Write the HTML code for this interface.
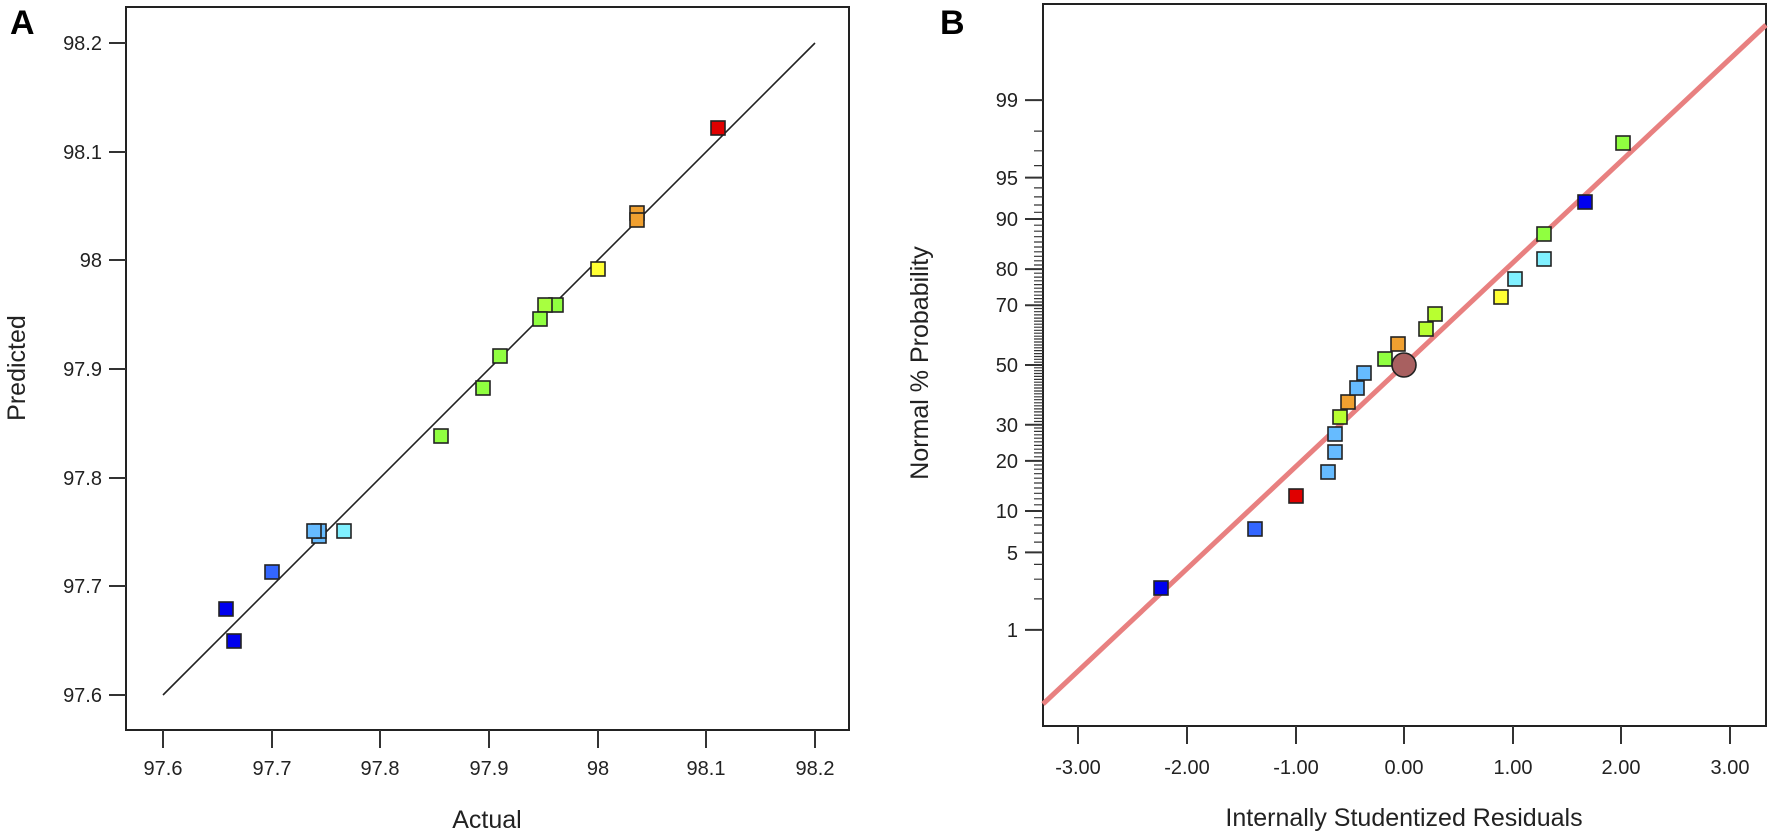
<!DOCTYPE html>
<html><head><meta charset="utf-8"><style>
html,body{margin:0;padding:0;background:#fff}
svg{display:block}
text{font-family:"Liberation Sans",sans-serif;fill:#222}
</style></head><body>
<svg width="1772" height="838" viewBox="0 0 1772 838" xmlns="http://www.w3.org/2000/svg">
<!-- Panel A -->
<text x="10" y="34" font-size="34" font-weight="bold" style="fill:#000">A</text>
<rect x="126" y="7" width="723" height="723" fill="none" stroke="#222" stroke-width="2"/>
<g stroke="#333" stroke-width="2">
<line x1="163" y1="730" x2="163" y2="748"/><line x1="272" y1="730" x2="272" y2="748"/>
<line x1="380" y1="730" x2="380" y2="748"/><line x1="489" y1="730" x2="489" y2="748"/>
<line x1="598" y1="730" x2="598" y2="748"/><line x1="706" y1="730" x2="706" y2="748"/>
<line x1="815" y1="730" x2="815" y2="748"/>
<line x1="109" y1="695" x2="126" y2="695"/><line x1="109" y1="586" x2="126" y2="586"/>
<line x1="109" y1="478" x2="126" y2="478"/><line x1="109" y1="369" x2="126" y2="369"/>
<line x1="109" y1="260" x2="126" y2="260"/><line x1="109" y1="152" x2="126" y2="152"/>
<line x1="109" y1="43" x2="126" y2="43"/>
</g>
<g font-size="20" text-anchor="middle">
<text x="163" y="775">97.6</text><text x="272" y="775">97.7</text><text x="380" y="775">97.8</text>
<text x="489" y="775">97.9</text><text x="598" y="775">98</text><text x="706" y="775">98.1</text><text x="815" y="775">98.2</text>
</g>
<g font-size="20" text-anchor="end">
<text x="102" y="702">97.6</text><text x="102" y="593">97.7</text><text x="102" y="485">97.8</text>
<text x="102" y="376">97.9</text><text x="102" y="267">98</text><text x="102" y="159">98.1</text><text x="102" y="50">98.2</text>
</g>
<text x="487" y="828" font-size="25" text-anchor="middle">Actual</text>
<text transform="translate(25,368) rotate(-90)" font-size="25" text-anchor="middle">Predicted</text>
<line x1="163" y1="695" x2="815" y2="43" stroke="#222" stroke-width="1.6"/>
<g stroke="#222" stroke-width="1.6">
<rect x="711" y="121" width="14" height="14" fill="#e00000"/>
<rect x="630" y="206" width="14" height="14" fill="#f0a030"/>
<rect x="630" y="213" width="14" height="14" fill="#f0a030"/>
<rect x="591" y="262" width="14" height="14" fill="#ffff33"/>
<rect x="549" y="298" width="14" height="14" fill="#90ff40"/>
<rect x="538" y="298" width="14" height="14" fill="#a8ff40"/>
<rect x="533" y="312" width="14" height="14" fill="#90ff40"/>
<rect x="493" y="349" width="14" height="14" fill="#90ff40"/>
<rect x="476" y="381" width="14" height="14" fill="#90ff40"/>
<rect x="434" y="429" width="14" height="14" fill="#90ff40"/>
<rect x="337" y="524" width="14" height="14" fill="#80f0ff"/>
<rect x="312" y="529" width="14" height="14" fill="#66bbff"/>
<rect x="312" y="524" width="14" height="14" fill="#66bbff"/>
<rect x="307" y="524" width="14" height="14" fill="#66bbff"/>
<rect x="265" y="565" width="14" height="14" fill="#3366ff"/>
<rect x="219" y="602" width="14" height="14" fill="#0000ee"/>
<rect x="227" y="634" width="14" height="14" fill="#0000ee"/>
</g>

<!-- Panel B -->
<text x="940" y="34" font-size="34" font-weight="bold" style="fill:#000">B</text>
<rect x="1043" y="4" width="723" height="722" fill="none" stroke="#222" stroke-width="2"/>
<g stroke="#333" stroke-width="2">
<line x1="1078" y1="726" x2="1078" y2="744"/><line x1="1187" y1="726" x2="1187" y2="744"/>
<line x1="1296" y1="726" x2="1296" y2="744"/><line x1="1404" y1="726" x2="1404" y2="744"/>
<line x1="1513" y1="726" x2="1513" y2="744"/><line x1="1621" y1="726" x2="1621" y2="744"/>
<line x1="1730" y1="726" x2="1730" y2="744"/>
</g>
<g font-size="20" text-anchor="middle">
<text x="1078" y="774">-3.00</text><text x="1187" y="774">-2.00</text><text x="1296" y="774">-1.00</text>
<text x="1404" y="774">0.00</text><text x="1513" y="774">1.00</text><text x="1621" y="774">2.00</text><text x="1730" y="774">3.00</text>
</g>
<!-- minor ticks -->
<path stroke="#333" stroke-width="1.2" fill="none" d="
M1034 629.9H1043M1034 598.9H1043M1034 579.2H1043M1034 564.4H1043M1034 552.4H1043M1034 542.1H1043M1034 533.1H1043M1034 525H1043M1034 517.7H1043M1034 511H1043
M1034 504.8H1043M1034 498.8H1043M1034 493.3H1043M1034 488H1043M1034 483H1043M1034 478.2H1043M1034 473.7H1043M1034 469.2H1043M1034 465H1043M1034 460.9H1043
M1034 456.8H1043M1034 452.9H1043M1034 449.2H1043M1034 445.4H1043M1034 441.8H1043M1034 438.2H1043M1034 434.8H1043M1034 431.4H1043M1034 428H1043M1034 424.7H1043
M1034 421.5H1043M1034 418.3H1043M1034 415.1H1043M1034 411.9H1043M1034 408.9H1043M1034 405.8H1043M1034 402.8H1043M1034 399.7H1043M1034 396.8H1043M1034 393.8H1043
M1034 391H1043M1034 388H1043M1034 385H1043M1034 382.2H1043M1034 379.4H1043M1034 376.4H1043M1034 373.5H1043M1034 370.7H1043M1034 367.8H1043M1034 365H1043
M1034 100.1H1043M1034 131.1H1043M1034 150.8H1043M1034 165.6H1043M1034 177.6H1043M1034 187.9H1043M1034 196.9H1043M1034 205H1043M1034 212.3H1043M1034 219H1043
M1034 225.2H1043M1034 231.2H1043M1034 236.7H1043M1034 242H1043M1034 247H1043M1034 251.8H1043M1034 256.3H1043M1034 260.8H1043M1034 265H1043M1034 269.1H1043
M1034 273.2H1043M1034 277.1H1043M1034 280.8H1043M1034 284.6H1043M1034 288.2H1043M1034 291.8H1043M1034 295.2H1043M1034 298.6H1043M1034 302H1043M1034 305.3H1043
M1034 308.5H1043M1034 311.7H1043M1034 314.9H1043M1034 318.1H1043M1034 321.1H1043M1034 324.2H1043M1034 327.2H1043M1034 330.3H1043M1034 333.2H1043M1034 336.2H1043
M1034 339H1043M1034 342H1043M1034 345H1043M1034 347.8H1043M1034 350.6H1043M1034 353.6H1043M1034 356.5H1043M1034 359.3H1043M1034 362.2H1043"/>
<!-- major ticks -->
<path stroke="#333" stroke-width="2" fill="none" d="
M1025 629.9H1043M1025 552.4H1043M1025 511H1043M1025 460.9H1043M1025 424.7H1043M1025 365H1043
M1025 305.3H1043M1025 269.1H1043M1025 219H1043M1025 177.6H1043M1025 100.1H1043"/>
<g font-size="20" text-anchor="end">
<text x="1018" y="637">1</text><text x="1018" y="560">5</text><text x="1018" y="518">10</text>
<text x="1018" y="468">20</text><text x="1018" y="432">30</text><text x="1018" y="372">50</text>
<text x="1018" y="312">70</text><text x="1018" y="276">80</text><text x="1018" y="226">90</text>
<text x="1018" y="185">95</text><text x="1018" y="107">99</text>
</g>
<text x="1404" y="826" font-size="25" text-anchor="middle">Internally Studentized Residuals</text>
<text transform="translate(928,363) rotate(-90)" font-size="25" text-anchor="middle">Normal % Probability</text>
<line x1="1043" y1="704" x2="1766" y2="25" stroke="#e88080" stroke-width="5"/>
<g stroke="#222" stroke-width="1.6">
<rect x="1154" y="581" width="14" height="14" fill="#0000ee"/>
<rect x="1248" y="522" width="14" height="14" fill="#3366ff"/>
<rect x="1289" y="489" width="14" height="14" fill="#e00000"/>
<rect x="1321" y="465" width="14" height="14" fill="#66bbff"/>
<rect x="1328" y="445" width="14" height="14" fill="#66bbff"/>
<rect x="1328" y="427" width="14" height="14" fill="#66bbff"/>
<rect x="1333" y="410" width="14" height="14" fill="#b8ff30"/>
<rect x="1341" y="395" width="14" height="14" fill="#f0a030"/>
<rect x="1350" y="381" width="14" height="14" fill="#66bbff"/>
<rect x="1357" y="366" width="14" height="14" fill="#66bbff"/>
<rect x="1378" y="352" width="14" height="14" fill="#90ff40"/>
<rect x="1391" y="337" width="14" height="14" fill="#f0a030"/>
<circle cx="1404" cy="365" r="12" fill="#a86060"/>
<rect x="1419" y="322" width="14" height="14" fill="#b8ff30"/>
<rect x="1428" y="307" width="14" height="14" fill="#b8ff30"/>
<rect x="1494" y="290" width="14" height="14" fill="#ffff33"/>
<rect x="1508" y="272" width="14" height="14" fill="#80f0ff"/>
<rect x="1537" y="252" width="14" height="14" fill="#80f0ff"/>
<rect x="1537" y="227" width="14" height="14" fill="#90ff40"/>
<rect x="1578" y="195" width="14" height="14" fill="#0000ee"/>
<rect x="1616" y="136" width="14" height="14" fill="#90ff40"/>
</g>
</svg>
</body></html>
